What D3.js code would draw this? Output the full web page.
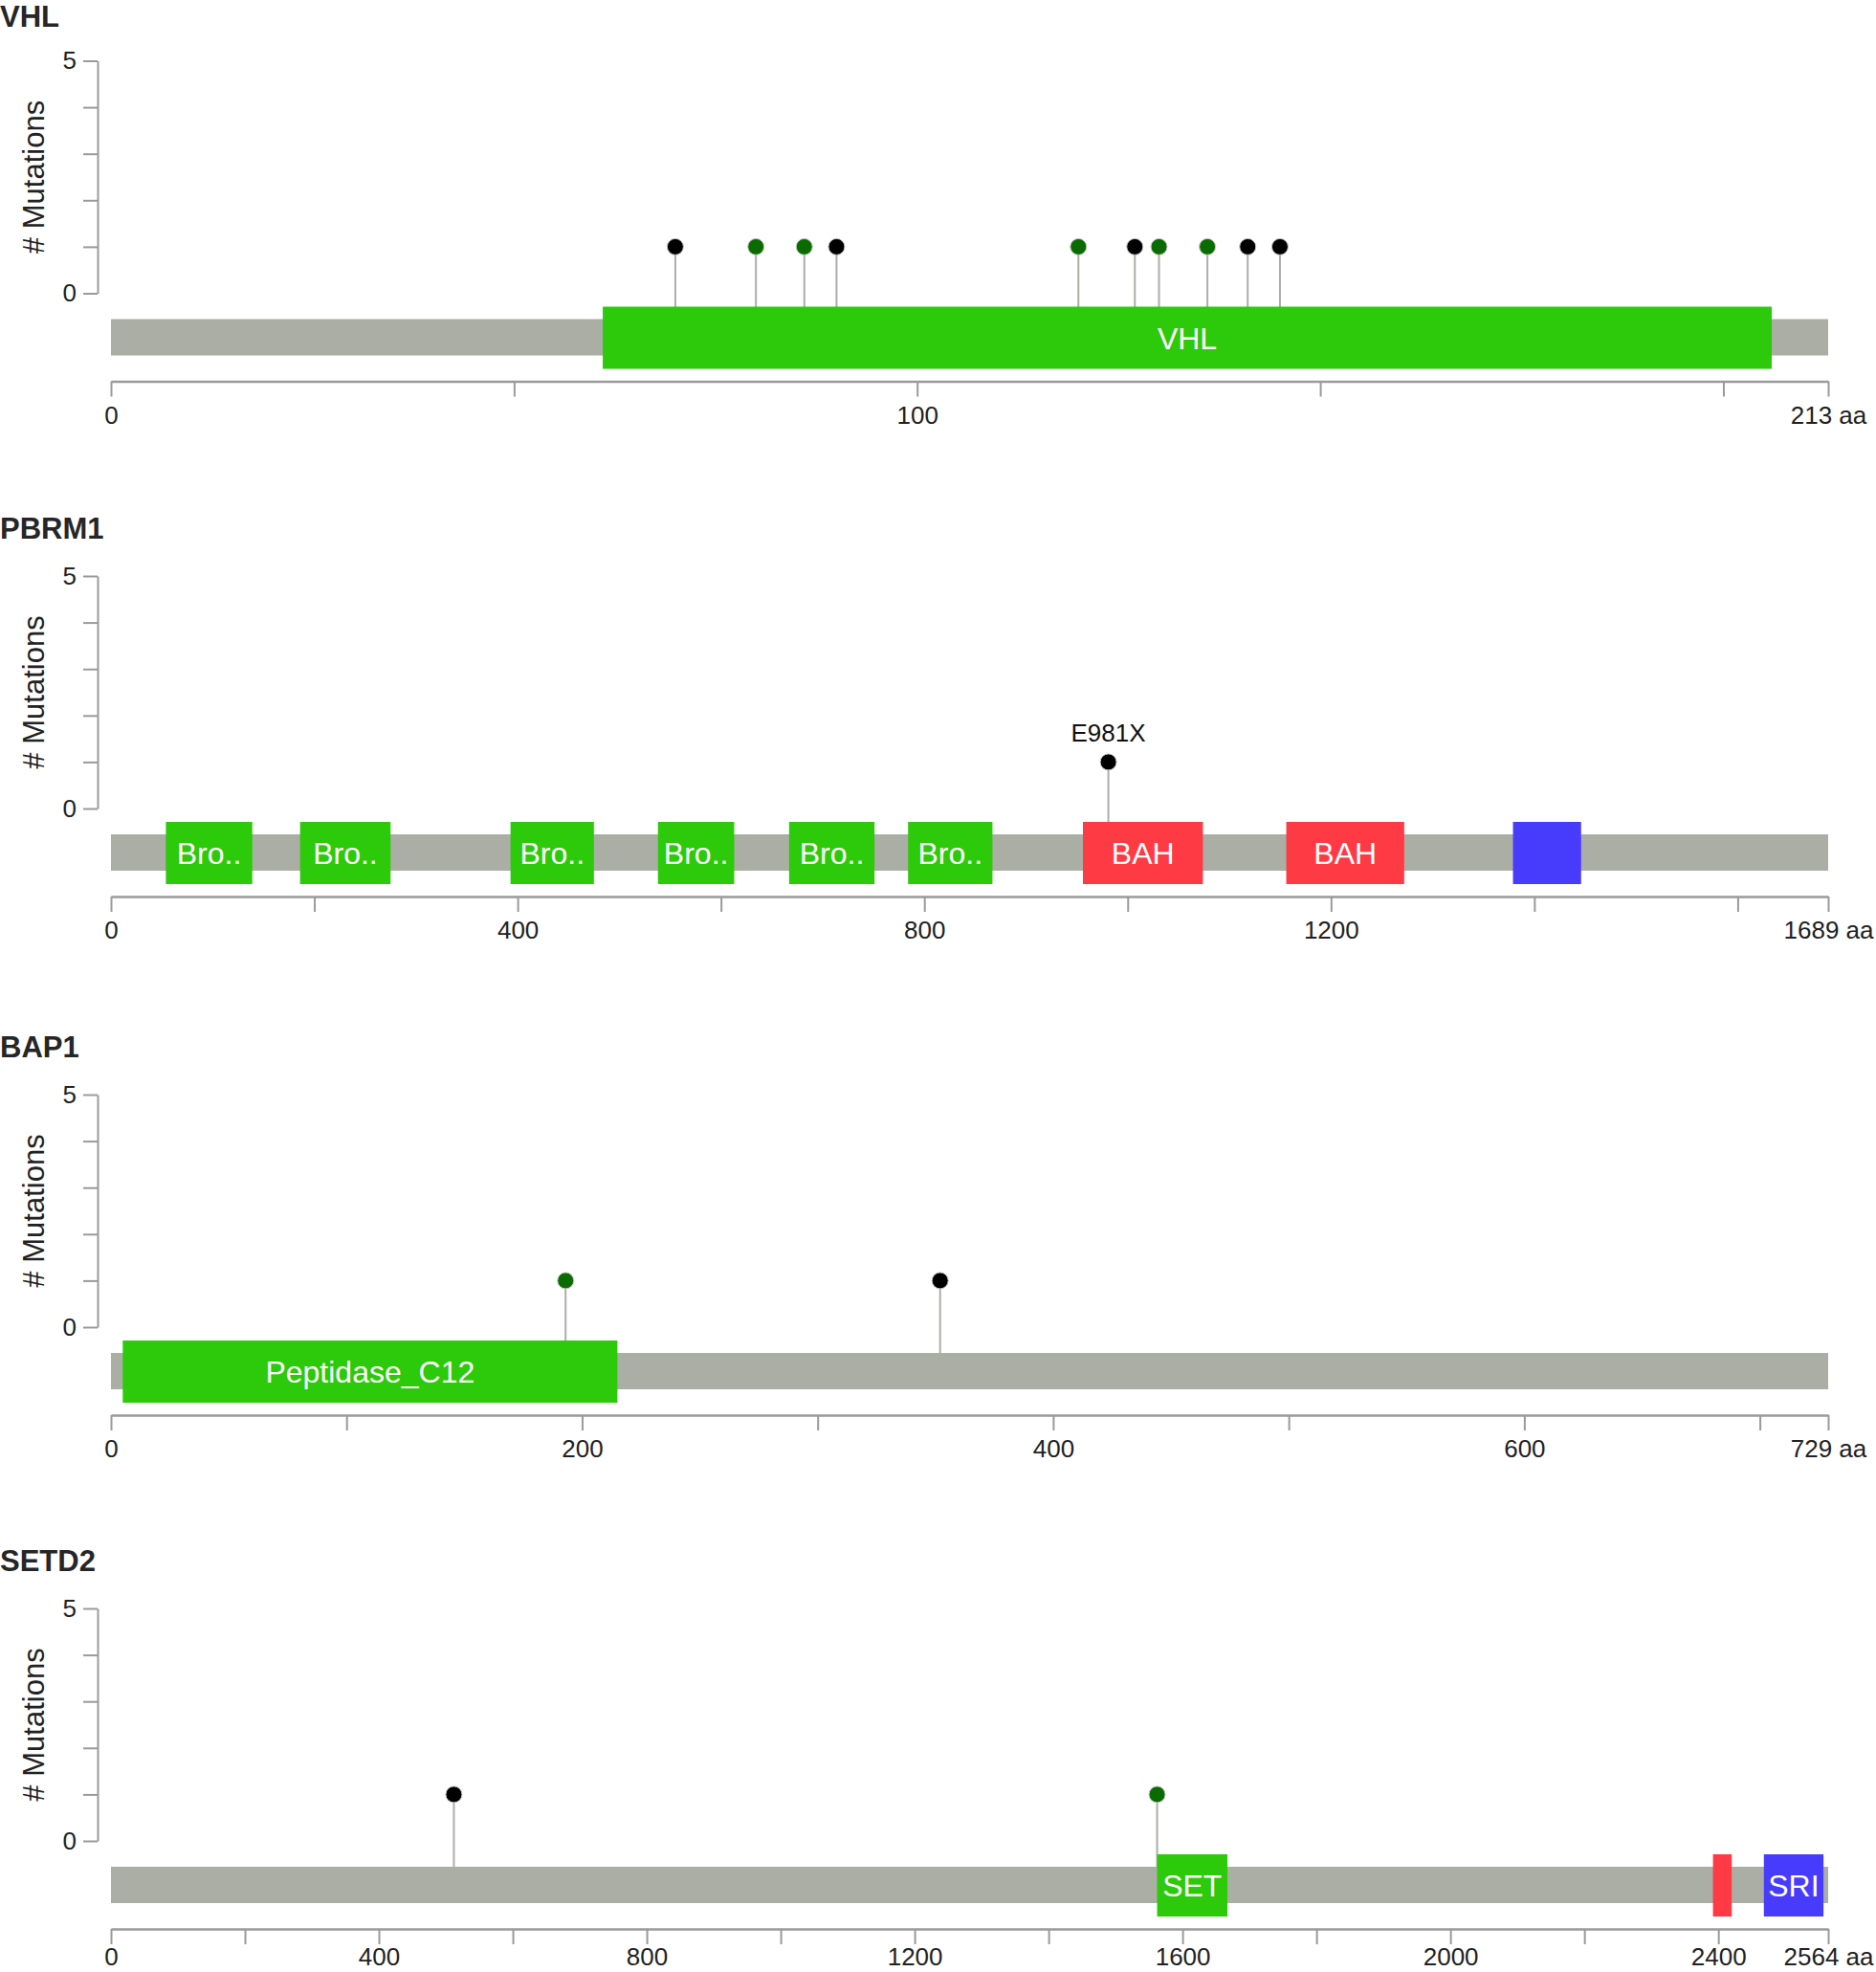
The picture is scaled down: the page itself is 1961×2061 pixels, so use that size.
<!DOCTYPE html>
<html>
<head>
<meta charset="utf-8">
<script src="https://cdn.jsdelivr.net/npm/d3@7"></script>
<style>
  html, body { margin: 0; padding: 0; background: #fff; }
  svg { display: block; font-family: "Liberation Sans", Arial, Helvetica, sans-serif; }
</style>
</head>
<body>
<svg id="chart" width="1961" height="2061"></svg>
<script>
// ---------- data ----------
const genes = ["VHL", "PBRM1", "BAP1", "SETD2"];
const proteinLengths = [213, 1689, 729, 2564];
const xTickSteps = [50, 200, 100, 200];
// labelled x ticks (the protein length is always labelled "<n> aa")
const vhlTickLabels = [0, 100];
const pbrm1TickLabels = [0, 400, 800, 1200];
const bap1TickLabels = [0, 200, 400, 600];
const setd2TickLabels = [0, 400, 800, 1200, 1600, 2000, 2400];
const yTicks = [0, 1, 2, 3, 4, 5];
const yTickLabels = [0, 5];

// domains: [start, end, label, kind]
const vhlDomains = [[61, 206, "VHL", "green"]];
const pbrm1Domains = [
  [54, 139, "Bro..", "green"],
  [186, 275, "Bro..", "green"],
  [393, 475, "Bro..", "green"],
  [538, 613, "Bro..", "green"],
  [667, 751, "Bro..", "green"],
  [784, 867, "Bro..", "green"],
  [956, 1074, "BAH", "red"],
  [1156, 1272, "BAH", "red"],
  [1379, 1446, "", "blue"]
];
const bap1Domains = [[5, 215, "Peptidase_C12", "green"]];
const setd2Domains = [
  [1562, 1667, "SET", "green"],
  [2392, 2420, "", "red"],
  [2468, 2557, "SRI", "blue"]
];

// mutations: [position, count, kind, label]
const vhlMutations = [
  [70, 1, "trunc", ""], [80, 1, "missense", ""], [86, 1, "missense", ""],
  [90, 1, "trunc", ""], [120, 1, "missense", ""], [127, 1, "trunc", ""],
  [130, 1, "missense", ""], [136, 1, "missense", ""], [141, 1, "trunc", ""],
  [145, 1, "trunc", ""]
];
const pbrm1Mutations = [[981, 1, "trunc", "E981X"]];
const bap1Mutations = [[193, 1, "missense", ""], [352, 1, "trunc", ""]];
const setd2Mutations = [[512, 1, "trunc", ""], [1562, 1, "missense", ""]];

const allDomains = [vhlDomains, pbrm1Domains, bap1Domains, setd2Domains];
const allMutations = [vhlMutations, pbrm1Mutations, bap1Mutations, setd2Mutations];
const allTickLabels = [vhlTickLabels, pbrm1TickLabels, bap1TickLabels, setd2TickLabels];

// ---------- styling / layout ----------
const panelTops = [63.5, 602, 1144, 1681];
const xTickPaddings = [10, 10, 10, 4];
const domainColors = { green: "#2dc90b", red: "#fe3a45", blue: "#483cfc" };
const mutColors = { trunc: "#000000", missense: "#0a6c00" };
const axisColor = "#9a9a9a";
const textColor = "#222";

const svg = d3.select("#chart");

genes.forEach((gene, i) => {
  const top = panelTops[i];
  const len = proteinLengths[i];
  const g = svg.append("g");

  const x = d3.scaleLinear().domain([0, len]).range([116, 1911]);
  const y = d3.scaleLinear().domain([0, 5]).range([top + 243, top]);

  const backboneTop = top + 270, backboneH = 38;
  const domainTop = top + 257, domainH = 65;
  const axisY = top + 335;

  // title
  g.append("text")
    .attr("x", 0).attr("y", Math.max(top - 39, 28))
    .attr("font-size", 31).attr("font-weight", "bold")
    .attr("fill", "#262626")
    .text(gene);

  // y axis
  const yAxis = d3.axisLeft(y)
    .tickValues(yTicks)
    .tickSize(15)
    .tickSizeOuter(0)
    .tickPadding(7)
    .tickFormat(d => yTickLabels.includes(d) ? String(d) : "");
  const ya = g.append("g").attr("transform", "translate(102,0)").call(yAxis);
  ya.select(".domain").attr("stroke", axisColor).attr("stroke-width", 2);
  ya.selectAll(".tick line").attr("stroke", axisColor).attr("stroke-width", 2);
  ya.selectAll(".tick text").attr("font-size", 26).attr("fill", textColor)
    .attr("font-family", "\"Liberation Sans\", Arial, sans-serif");

  // y axis title
  g.append("text")
    .attr("transform", `translate(46,${(y(0) + y(5)) / 2}) rotate(-90)`)
    .attr("text-anchor", "middle")
    .attr("font-size", 31)
    .attr("fill", textColor)
    .text("# Mutations");

  // x axis
  const tv = d3.range(0, len, xTickSteps[i]);
  tv.push(len);
  const labels = allTickLabels[i];
  const xAxis = d3.axisBottom(x)
    .tickValues(tv)
    .tickSize(16)
    .tickSizeOuter(0)
    .tickPadding(xTickPaddings[i])
    .tickFormat(d => d === len ? `${len} aa` : (labels.includes(d) ? String(d) : ""));
  const xa = g.append("g").attr("transform", `translate(0,${axisY})`).call(xAxis);
  xa.select(".domain").attr("stroke", axisColor).attr("stroke-width", 2.5);
  xa.selectAll(".tick line").attr("stroke", axisColor).attr("stroke-width", 2);
  xa.selectAll(".tick text").attr("font-size", 26).attr("fill", textColor)
    .attr("font-family", "\"Liberation Sans\", Arial, sans-serif");

  // lollipop stems
  const muts = allMutations[i];
  g.selectAll(".stem").data(muts).enter().append("line")
    .attr("x1", d => x(d[0])).attr("x2", d => x(d[0]))
    .attr("y1", d => y(d[1])).attr("y2", backboneTop)
    .attr("stroke", "#adada8").attr("stroke-width", 2);

  // backbone
  g.append("rect")
    .attr("x", x(0)).attr("y", backboneTop)
    .attr("width", x(len) - x(0)).attr("height", backboneH)
    .attr("fill", "#abaea4");

  // domains
  const doms = allDomains[i];
  g.selectAll(".dom").data(doms).enter().append("rect")
    .attr("x", d => x(d[0])).attr("y", domainTop)
    .attr("width", d => x(d[1]) - x(d[0])).attr("height", domainH)
    .attr("fill", d => domainColors[d[3]]);
  g.selectAll(".domlabel").data(doms.filter(d => d[2])).enter().append("text")
    .attr("x", d => (x(d[0]) + x(d[1])) / 2)
    .attr("y", domainTop + domainH / 2 + 11.5)
    .attr("text-anchor", "middle")
    .attr("font-size", 32)
    .attr("fill", "#fff")
    .text(d => d[2]);

  // heads
  g.selectAll(".head").data(muts).enter().append("circle")
    .attr("cx", d => x(d[0])).attr("cy", d => y(d[1]))
    .attr("r", 8.5)
    .attr("fill", d => mutColors[d[2]])
    .attr("stroke", "#c8c8c8").attr("stroke-width", 1);

  // mutation labels
  g.selectAll(".mutlabel").data(muts.filter(d => d[3])).enter().append("text")
    .attr("x", d => x(d[0])).attr("y", d => y(d[1]) - 21)
    .attr("text-anchor", "middle")
    .attr("font-size", 26)
    .attr("fill", "#111")
    .text(d => d[3]);
});
</script>
</body>
</html>
